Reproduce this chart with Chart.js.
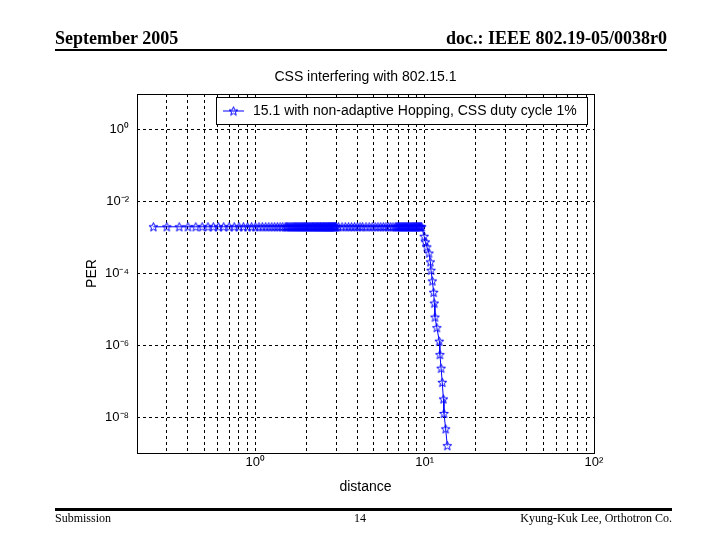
<!DOCTYPE html>
<html lang="en">
<head>
  <meta charset="UTF-8" />
  <title>CSS interfering with 802.15.1</title>
  <script src="https://cdn.jsdelivr.net/npm/chart.js"></script>
  <style>
    html, body {
      margin: 0;
      padding: 0;
      background: #ffffff;
    }
    .page {
      position: relative;
      width: 720px;
      height: 540px;
      overflow: hidden;
    }
    #perChart {
      position: absolute;
      left: 0;
      top: 0;
    }
    .slide-text {
      position: absolute;
      font-family: "Liberation Serif", "Times New Roman", serif;
      color: #000;
      white-space: nowrap;
    }
    .hdr { font-size: 18px; font-weight: bold; top: 28px; }
    .ftr { font-size: 12px; top: 511px; }
    .rule { position: absolute; background: #000; }
    .plot-title {
      position: absolute;
      left: 137px;
      width: 457px;
      top: 68px;
      text-align: center;
      font: 14px Arial, "Liberation Sans", sans-serif;
    }
  </style>
</head>
<body>
  <div class="page">
    <canvas id="perChart" width="720" height="540"></canvas>
    <div class="slide-text hdr" style="left:55px;">September 2005</div>
    <div class="slide-text hdr" style="right:53px;">doc.: IEEE 802.19-05/0038r0</div>
    <div class="rule" style="left:55px; top:49px; width:612px; height:2px;"></div>
    <div class="plot-title">CSS interfering with 802.15.1</div>
    <div class="rule" style="left:55px; top:508px; width:617px; height:3px;"></div>
    <div class="slide-text ftr" style="left:55px;">Submission</div>
    <div class="slide-text ftr" style="left:354px;">14</div>
    <div class="slide-text ftr" style="right:48px;">Kyung-Kuk Lee, Orthotron Co.</div>
  </div>

  <script>
    // distances where the PER sits on the flat plateau
    const plateauDistance = [
      0.25, 0.30, 0.355, 0.40, 0.445, 0.485, 0.525, 0.565, 0.605, 0.65,
      0.70, 0.75, 0.80, 0.85, 0.90, 0.95, 1.00, 1.05, 1.10, 1.15,
      1.20, 1.25, 1.30, 1.35, 1.40, 1.45,
      1.500, 1.525, 1.550, 1.575, 1.600, 1.625, 1.650, 1.675, 1.700, 1.725,
      1.750, 1.775, 1.800, 1.825, 1.850, 1.875, 1.900, 1.925, 1.950, 1.975,
      2.000, 2.025, 2.050, 2.075, 2.100, 2.125, 2.150, 2.175, 2.200, 2.225,
      2.250, 2.275, 2.300, 2.325, 2.350, 2.375, 2.400, 2.425, 2.450, 2.475,
      2.500, 2.525, 2.550, 2.575, 2.600, 2.625, 2.650, 2.675, 2.700, 2.725,
      2.750, 2.775, 2.800, 2.825, 2.850, 2.875, 2.900, 2.925, 2.950, 2.975, 3.000,
      3.10, 3.25, 3.40, 3.55, 3.70, 3.85, 4.00, 4.15, 4.30, 4.50,
      4.70, 4.90, 5.10, 5.30, 5.50, 5.70, 5.90, 6.10, 6.30, 6.50, 6.70,
      6.8, 6.9, 7.0, 7.1, 7.2, 7.3, 7.4, 7.5, 7.6, 7.7,
      7.8, 7.9, 8.0, 8.1, 8.2, 8.3, 8.4, 8.5, 8.6, 8.7,
      8.8, 8.9, 9.0, 9.1, 9.2, 9.3, 9.4, 9.5, 9.6
    ];
    const plateauPER = 2.0e-3;

    // roll-off beyond ~10 m
    const rolloffDistance = [9.93, 10.1, 10.3, 10.6, 10.8, 10.9, 11.1, 11.3, 11.4, 11.5,
                             11.8, 12.2, 12.3, 12.5, 12.7, 12.9, 13.0, 13.3, 13.6];
    const rolloffPER = [1.09e-3, 7.6e-4, 5.5e-4, 3.7e-4, 2.1e-4, 1.23e-4, 6.2e-5, 3.0e-5, 1.5e-5, 6.1e-6,
                        3.1e-6, 1.3e-6, 5.5e-7, 2.3e-7, 9.3e-8, 3.2e-8, 1.26e-8, 4.7e-9, 1.6e-9];

    const seriesLabel = '15.1 with non-adaptive Hopping, CSS duty cycle 1%';

    // grid lines / ticks
    const xGridValues = [0.3, 0.4, 0.5, 0.6, 0.7, 0.8, 0.9, 1, 2, 3, 4, 5, 6, 7, 8, 9,
                         10, 20, 30, 40, 50, 60, 70, 80, 90, 100];
    const xTickLabels = { 1: '10\u2070', 10: '10\u00B9', 100: '10\u00B2' };
    const yTickValues = [1e-8, 1e-6, 1e-4, 1e-2, 1];
    const yTickLabels = ['10\u207B\u2078', '10\u207B\u2076', '10\u207B\u2074', '10\u207B\u00B2', '10\u2070'];

    const lineBlue = '#0000ff';
    const axisFont = 'Arial, "Liberation Sans", sans-serif';

    // MATLAB style pentagram marker
    function starMarker(size, color) {
      const c = document.createElement('canvas');
      c.width = size;
      c.height = size;
      const g = c.getContext('2d');
      const r = size / 2 - 0.8, ri = r * 0.42, cx = size / 2, cy = size / 2 + 0.4;
      g.beginPath();
      for (let k = 0; k < 10; k++) {
        const rad = k % 2 ? ri : r;
        const a = -Math.PI / 2 + k * Math.PI / 5;
        const px = cx + rad * Math.cos(a), py = cy + rad * Math.sin(a);
        if (k === 0) g.moveTo(px, py); else g.lineTo(px, py);
      }
      g.closePath();
      g.strokeStyle = color;
      g.lineWidth = 1;
      g.stroke();
      return c;
    }
    const star = starMarker(11, lineBlue);

    const points = plateauDistance.map(d => ({ x: d, y: plateauPER }))
      .concat(rolloffDistance.map((d, i) => ({ x: d, y: rolloffPER[i] })));

    // box around the axes + legend inside the plot, like MATLAB
    const frameAndLegend = {
      id: 'frameAndLegend',
      afterDraw(chart) {
        const { ctx, chartArea: a } = chart;
        ctx.save();
        ctx.strokeStyle = '#000';
        ctx.lineWidth = 1;
        ctx.strokeRect(Math.round(a.left) + 0.5, Math.round(a.top) + 0.5,
                       Math.round(a.right - a.left), Math.round(a.bottom - a.top));

        const ds = chart.data.datasets[0];
        ctx.font = '14px ' + axisFont;
        const tw = ctx.measureText(ds.label).width;
        const w = Math.round(tw + 47), h = 27;
        const x = Math.round(a.right) - 7 - w, y = Math.round(a.top) + 3;
        ctx.fillStyle = '#fff';
        ctx.fillRect(x, y, w, h);
        ctx.strokeRect(x + 0.5, y + 0.5, w, h);
        ctx.strokeStyle = ds.borderColor;
        ctx.beginPath();
        ctx.moveTo(x + 7, y + h / 2 + 0.5);
        ctx.lineTo(x + 28, y + h / 2 + 0.5);
        ctx.stroke();
        ctx.drawImage(star, x + 17.5 - star.width / 2, y + h / 2 + 0.5 - star.height / 2);
        ctx.fillStyle = '#000';
        ctx.textBaseline = 'middle';
        ctx.fillText(ds.label, x + 37, y + h / 2 + 1);
        ctx.restore();
      }
    };

    new Chart(document.getElementById('perChart'), {
      type: 'line',
      data: {
        datasets: [{
          label: seriesLabel,
          data: points,
          borderColor: lineBlue,
          backgroundColor: lineBlue,
          borderWidth: 1,
          pointStyle: star,
          pointRadius: 5,
          tension: 0,
          fill: false
        }]
      },
      options: {
        responsive: false,
        animation: false,
        layout: { padding: { left: 80, top: 94, right: 126, bottom: 40 } },
        plugins: {
          legend: { display: false },
          title: { display: false },
          tooltip: { enabled: false }
        },
        scales: {
          x: {
            type: 'logarithmic',
            min: 0.2,
            max: 100,
            afterBuildTicks: s => { s.ticks = xGridValues.map(v => ({ value: v })); },
            afterFit: s => { s.height = 47; },
            ticks: {
              autoSkip: false,
              maxRotation: 0,
              padding: 2,
              color: '#000',
              font: { family: axisFont, size: 13 },
              callback: v => xTickLabels[v] || ''
            },
            grid: { color: '#000', lineWidth: 1, drawTicks: false },
            border: { display: false, dash: [3, 3] },
            title: {
              display: true,
              text: 'distance',
              color: '#000',
              font: { family: axisFont, size: 14 },
              padding: { top: 0, bottom: 4 }
            }
          },
          y: {
            type: 'logarithmic',
            min: 1e-9,
            max: 10,
            afterBuildTicks: s => { s.ticks = yTickValues.map(v => ({ value: v })); },
            afterFit: s => { s.width = 57; },
            ticks: {
              autoSkip: false,
              padding: 8,
              color: '#000',
              font: { family: axisFont, size: 13 },
              callback: (v, i) => yTickLabels[i]
            },
            grid: { color: '#000', lineWidth: 1, drawTicks: false },
            border: { display: false, dash: [3, 3] },
            title: {
              display: true,
              text: 'PER',
              color: '#000',
              font: { family: axisFont, size: 14 },
              padding: { top: 4, bottom: 0 }
            }
          }
        }
      },
      plugins: [frameAndLegend]
    });
  </script>
</body>
</html>
